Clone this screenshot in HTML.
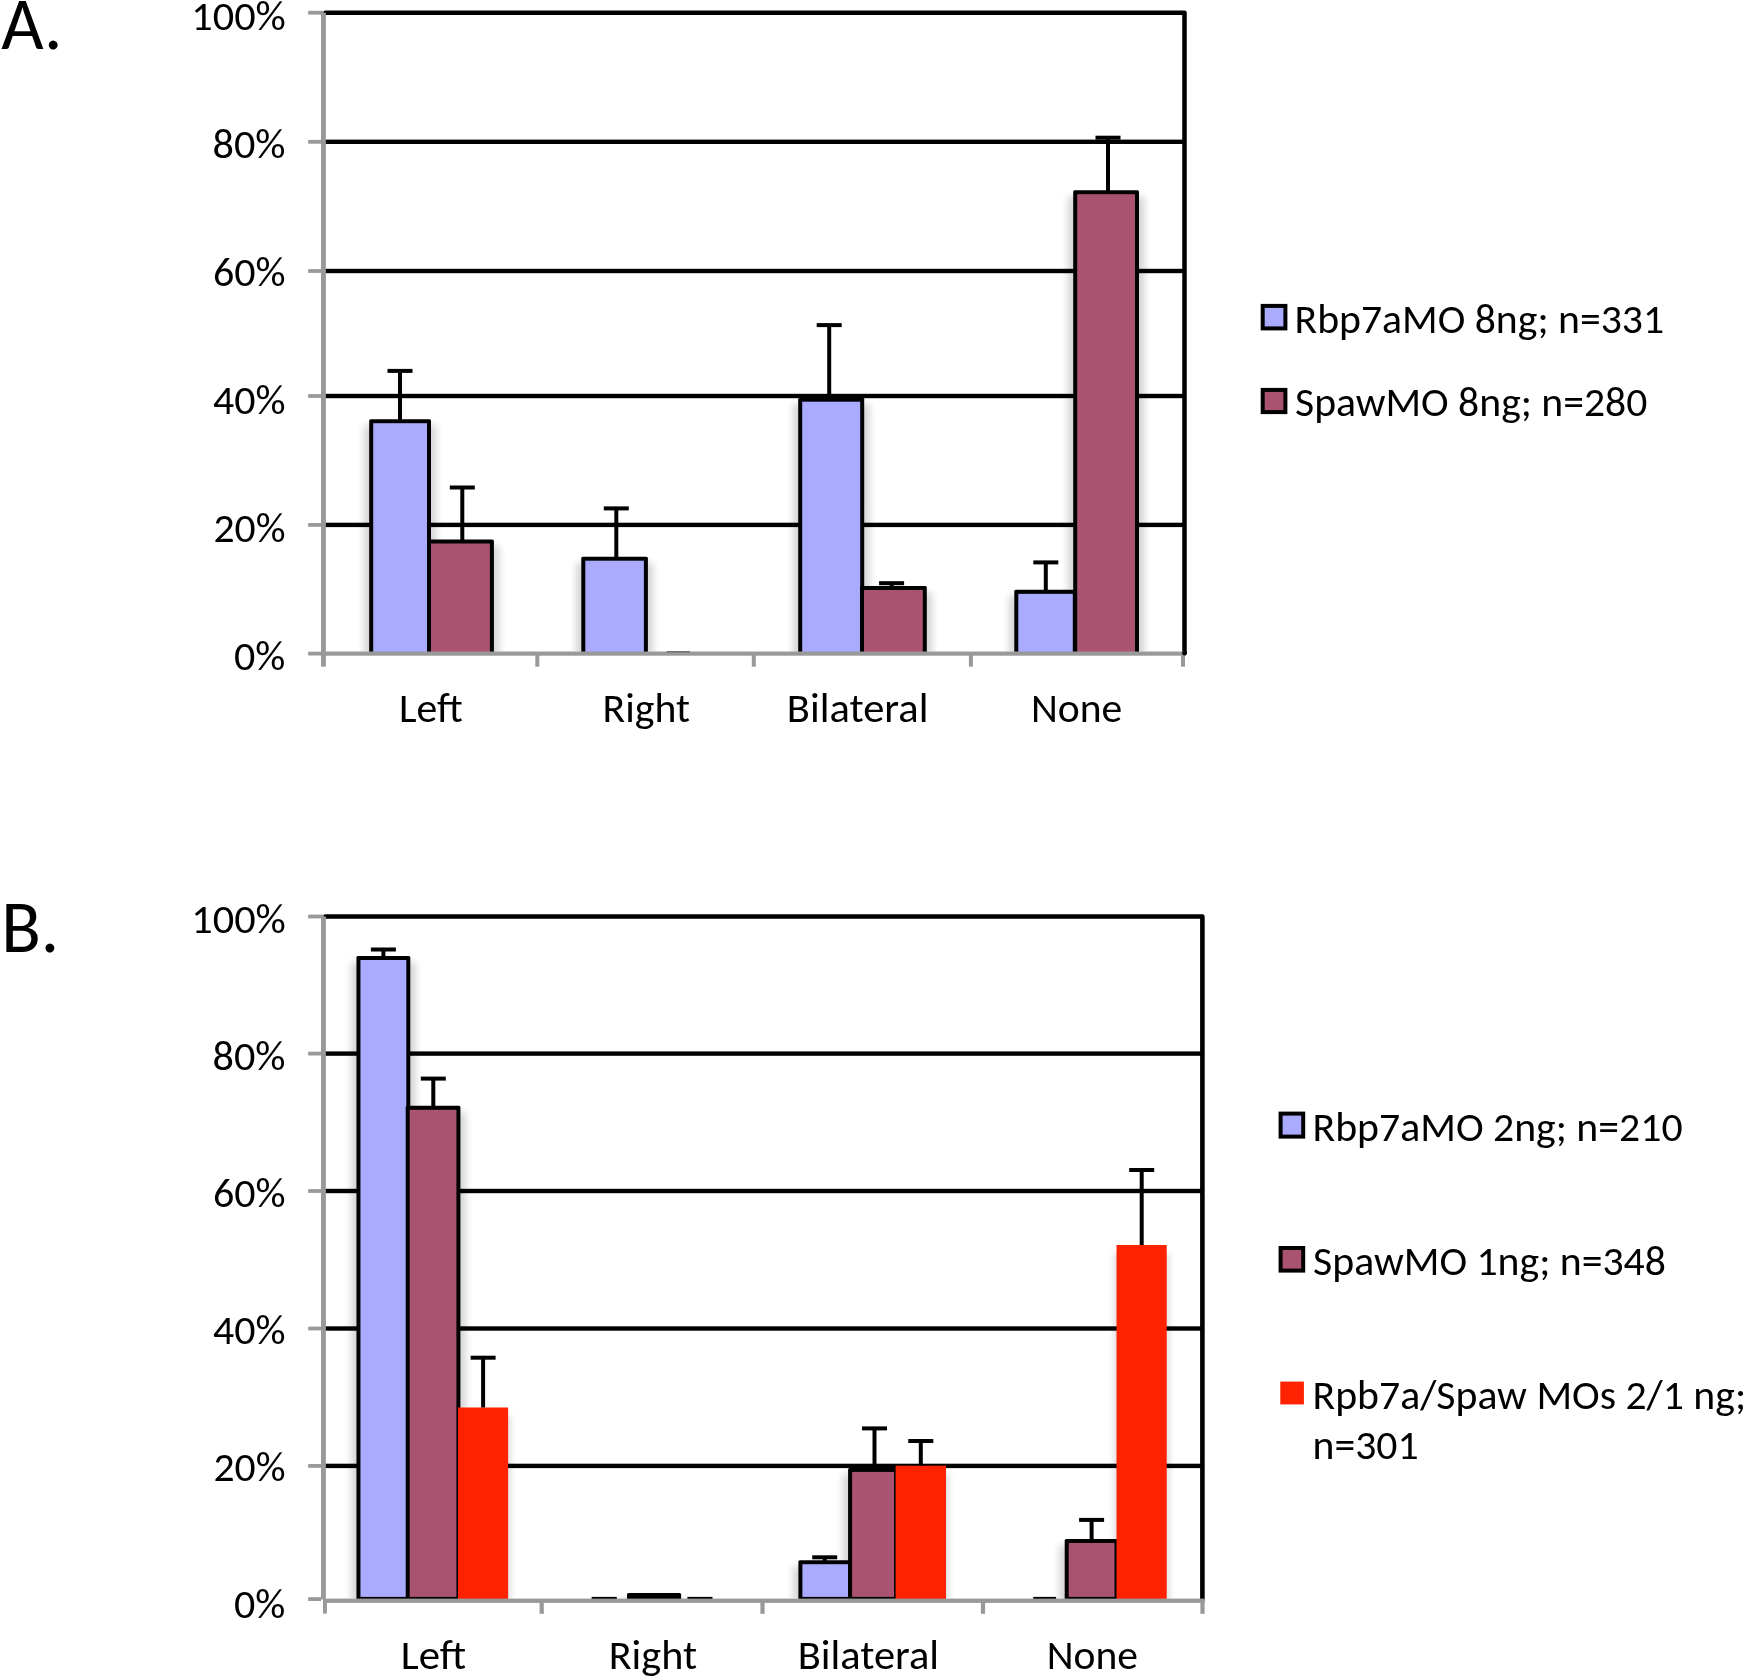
<!DOCTYPE html><html><head><meta charset="utf-8"><title>Chart</title>
<style>html,body{margin:0;padding:0;background:#fff;}body{width:1744px;height:1678px;overflow:hidden;}svg{display:block;}text{font-family:Carlito, 'Liberation Sans', Arial, sans-serif;fill:#000;filter:grayscale(1);font-size-adjust:cap-height 0.6416;}</style></head><body>
<svg width="1744" height="1678" viewBox="0 0 1744 1678">
<defs><filter id="sh" x="-50%" y="-20%" width="200%" height="140%"><feGaussianBlur stdDeviation="3.5"/></filter><filter id="sh2" x="-50%" y="-20%" width="200%" height="140%"><feGaussianBlur stdDeviation="3"/></filter><clipPath id="clipA"><rect x="326" y="0" width="856" height="651.5"/></clipPath><clipPath id="clipAR"><rect x="1170" y="651.5" width="30" height="20"/></clipPath><clipPath id="clipB"><rect x="326" y="900" width="874" height="698.6"/></clipPath></defs>
<rect x="0" y="0" width="1744" height="1678" fill="#fff"/>
<rect x="323.40" y="139.60" width="861.10" height="4.40" fill="#000"/>
<rect x="323.40" y="268.80" width="861.10" height="4.40" fill="#000"/>
<rect x="323.40" y="393.80" width="861.10" height="4.40" fill="#000"/>
<rect x="323.40" y="522.70" width="861.10" height="4.40" fill="#000"/>
<path d="M325.4 12.7 H1184.5 V653.2" fill="none" stroke="#000" stroke-width="4.5" stroke-linejoin="round" stroke-linecap="round"/>
<g clip-path="url(#clipA)">
<rect x="363.70" y="425.20" width="72.80" height="242.30" fill="#000" opacity="0.16" filter="url(#sh)"/>
<rect x="421.50" y="545.50" width="77.90" height="122.00" fill="#000" opacity="0.16" filter="url(#sh)"/>
<rect x="575.80" y="562.70" width="77.60" height="104.80" fill="#000" opacity="0.16" filter="url(#sh)"/>
<rect x="792.70" y="403.70" width="77.00" height="263.80" fill="#000" opacity="0.16" filter="url(#sh)"/>
<rect x="854.50" y="592.00" width="77.80" height="75.50" fill="#000" opacity="0.16" filter="url(#sh)"/>
<rect x="1008.80" y="595.85" width="73.50" height="71.65" fill="#000" opacity="0.16" filter="url(#sh)"/>
<rect x="1067.70" y="196.20" width="76.80" height="471.30" fill="#000" opacity="0.16" filter="url(#sh)"/>
</g>
<rect x="369.20" y="419.20" width="61.80" height="234.40" fill="#000" rx="1.5"/>
<rect x="373.20" y="423.20" width="53.80" height="230.40" fill="#aaaaff"/>
<rect x="427.00" y="539.50" width="66.90" height="114.10" fill="#000" rx="1.5"/>
<rect x="431.00" y="543.50" width="58.90" height="110.10" fill="#aa5370"/>
<rect x="581.30" y="556.70" width="66.60" height="96.90" fill="#000" rx="1.5"/>
<rect x="585.30" y="560.70" width="58.60" height="92.90" fill="#aaaaff"/>
<rect x="798.20" y="397.70" width="66.00" height="255.90" fill="#000" rx="1.5"/>
<rect x="802.20" y="401.70" width="58.00" height="251.90" fill="#aaaaff"/>
<rect x="860.00" y="586.00" width="66.80" height="67.60" fill="#000" rx="1.5"/>
<rect x="864.00" y="590.00" width="58.80" height="63.60" fill="#aa5370"/>
<rect x="1014.30" y="589.85" width="62.50" height="63.75" fill="#000" rx="1.5"/>
<rect x="1018.30" y="593.85" width="54.50" height="59.75" fill="#aaaaff"/>
<rect x="1073.20" y="190.20" width="65.80" height="463.40" fill="#000" rx="1.5"/>
<rect x="1077.20" y="194.20" width="57.80" height="459.40" fill="#aa5370"/>
<rect x="398.00" y="370.90" width="4.00" height="50.30" fill="#000"/>
<rect x="387.50" y="368.90" width="25.00" height="4.00" fill="#000"/>
<rect x="460.30" y="487.50" width="4.00" height="54.00" fill="#000"/>
<rect x="449.80" y="485.50" width="25.00" height="4.00" fill="#000"/>
<rect x="614.30" y="508.40" width="4.00" height="50.30" fill="#000"/>
<rect x="603.80" y="506.40" width="25.00" height="4.00" fill="#000"/>
<rect x="827.20" y="325.10" width="4.00" height="74.60" fill="#000"/>
<rect x="816.70" y="323.10" width="25.00" height="4.00" fill="#000"/>
<rect x="889.60" y="583.20" width="4.00" height="4.80" fill="#000"/>
<rect x="879.10" y="581.20" width="25.00" height="4.00" fill="#000"/>
<rect x="1043.80" y="562.40" width="4.00" height="29.45" fill="#000"/>
<rect x="1033.30" y="560.40" width="25.00" height="4.00" fill="#000"/>
<rect x="1106.00" y="137.70" width="4.00" height="54.50" fill="#000"/>
<rect x="1095.50" y="135.70" width="25.00" height="4.00" fill="#000"/>
<rect x="321.00" y="12.70" width="4.90" height="654.00" fill="#999999"/>
<rect x="321.00" y="651.50" width="863.00" height="4.20" fill="#999999"/>
<rect x="308.20" y="10.80" width="15.20" height="3.80" fill="#999999"/>
<rect x="308.20" y="139.90" width="15.20" height="3.80" fill="#999999"/>
<rect x="308.20" y="269.10" width="15.20" height="3.80" fill="#999999"/>
<rect x="308.20" y="394.10" width="15.20" height="3.80" fill="#999999"/>
<rect x="308.20" y="523.00" width="15.20" height="3.80" fill="#999999"/>
<rect x="308.20" y="651.70" width="15.20" height="3.80" fill="#999999"/>
<rect x="535.30" y="653.60" width="4.00" height="13.10" fill="#999999"/>
<rect x="751.80" y="653.60" width="4.00" height="13.10" fill="#999999"/>
<rect x="968.90" y="653.60" width="4.00" height="13.10" fill="#999999"/>
<rect x="1181.00" y="653.60" width="4.00" height="13.10" fill="#999999"/>
<path d="M1184.5 640 V653.2" fill="none" stroke="#000" stroke-width="4.5" stroke-linecap="round" clip-path="url(#clipAR)"/>
<rect x="666.80" y="651.20" width="23.00" height="1.10" fill="#5a5a5a"/>
<text x="191.27" y="29.90" font-size="42.0" textLength="94.53" lengthAdjust="spacingAndGlyphs">100%</text>
<text x="212.59" y="157.90" font-size="42.0" textLength="72.93" lengthAdjust="spacingAndGlyphs">80%</text>
<text x="212.90" y="285.90" font-size="42.0" textLength="72.61" lengthAdjust="spacingAndGlyphs">60%</text>
<text x="213.00" y="413.90" font-size="42.0" textLength="72.51" lengthAdjust="spacingAndGlyphs">40%</text>
<text x="213.52" y="541.90" font-size="42.0" textLength="71.98" lengthAdjust="spacingAndGlyphs">20%</text>
<text x="233.90" y="669.90" font-size="42.0" textLength="51.31" lengthAdjust="spacingAndGlyphs">0%</text>
<text x="398.91" y="721.90" font-size="42.0" textLength="63.73" lengthAdjust="spacingAndGlyphs">Left</text>
<text x="602.62" y="721.90" font-size="42.0" textLength="87.45" lengthAdjust="spacingAndGlyphs">Right</text>
<text x="786.86" y="721.90" font-size="42.0" textLength="141.58" lengthAdjust="spacingAndGlyphs">Bilateral</text>
<text x="1030.93" y="721.90" font-size="42.0" textLength="91.29" lengthAdjust="spacingAndGlyphs">None</text>
<rect x="1260.70" y="303.90" width="26.70" height="26.50" fill="#000"/>
<rect x="1264.70" y="307.90" width="18.70" height="18.50" fill="#aaaaff"/>
<text x="1294.52" y="332.90" font-size="42.0" textLength="369.53" lengthAdjust="spacingAndGlyphs">Rbp7aMO 8ng; n=331</text>
<rect x="1260.70" y="387.90" width="26.70" height="26.20" fill="#000"/>
<rect x="1264.70" y="391.90" width="18.70" height="18.20" fill="#aa5370"/>
<text x="1295.01" y="416.10" font-size="42.0" textLength="352.32" lengthAdjust="spacingAndGlyphs">SpawMO 8ng; n=280</text>
<text x="1.15" y="48.90" font-size="73" textLength="61.27" lengthAdjust="spacingAndGlyphs">A.</text>
<rect x="323.40" y="1051.40" width="879.00" height="4.40" fill="#000"/>
<rect x="323.40" y="1188.80" width="879.00" height="4.40" fill="#000"/>
<rect x="323.40" y="1326.30" width="879.00" height="4.40" fill="#000"/>
<rect x="323.40" y="1463.70" width="879.00" height="4.40" fill="#000"/>
<path d="M325.4 916.5 H1202.4 V1599.5" fill="none" stroke="#000" stroke-width="4.6" stroke-linejoin="round" stroke-linecap="round"/>
<g clip-path="url(#clipB)">
<rect x="350.95" y="962.00" width="64.85" height="654.90" fill="#000" opacity="0.16" filter="url(#sh)"/>
<rect x="400.20" y="1111.80" width="65.70" height="505.10" fill="#000" opacity="0.16" filter="url(#sh)"/>
<rect x="455.00" y="1415.50" width="56.10" height="203.40" fill="#000" opacity="0.12" filter="url(#sh2)"/>
<rect x="621.50" y="1598.90" width="65.10" height="18.00" fill="#000" opacity="0.16" filter="url(#sh)"/>
<rect x="792.90" y="1566.20" width="64.70" height="50.70" fill="#000" opacity="0.16" filter="url(#sh)"/>
<rect x="842.60" y="1473.90" width="60.90" height="143.00" fill="#000" opacity="0.16" filter="url(#sh)"/>
<rect x="892.60" y="1473.70" width="56.40" height="145.20" fill="#000" opacity="0.12" filter="url(#sh2)"/>
<rect x="1059.20" y="1545.00" width="64.80" height="71.90" fill="#000" opacity="0.16" filter="url(#sh)"/>
<rect x="1113.50" y="1253.00" width="56.20" height="365.90" fill="#000" opacity="0.12" filter="url(#sh2)"/>
</g>
<rect x="356.45" y="956.00" width="53.85" height="644.90" fill="#000" rx="1.5"/>
<rect x="360.45" y="960.00" width="45.85" height="636.90" fill="#aaaaff"/>
<rect x="405.70" y="1105.80" width="54.70" height="495.10" fill="#000" rx="1.5"/>
<rect x="409.70" y="1109.80" width="46.70" height="487.10" fill="#aa5370"/>
<rect x="458.00" y="1407.50" width="50.10" height="193.40" fill="#ff2200"/>
<rect x="627.00" y="1592.90" width="54.10" height="8.00" fill="#000" rx="1.5"/>
<rect x="798.40" y="1560.20" width="53.70" height="40.70" fill="#000" rx="1.5"/>
<rect x="802.40" y="1564.20" width="45.70" height="32.70" fill="#aaaaff"/>
<rect x="848.10" y="1467.90" width="49.90" height="133.00" fill="#000" rx="1.5"/>
<rect x="852.10" y="1471.90" width="41.90" height="125.00" fill="#aa5370"/>
<rect x="895.60" y="1465.70" width="50.40" height="135.20" fill="#ff2200"/>
<rect x="1064.70" y="1539.00" width="53.80" height="61.90" fill="#000" rx="1.5"/>
<rect x="1068.70" y="1543.00" width="45.80" height="53.90" fill="#aa5370"/>
<rect x="1116.50" y="1245.00" width="50.20" height="355.90" fill="#ff2200"/>
<rect x="381.40" y="949.50" width="4.00" height="8.50" fill="#000"/>
<rect x="370.90" y="947.50" width="25.00" height="4.00" fill="#000"/>
<rect x="431.30" y="1078.60" width="4.00" height="29.20" fill="#000"/>
<rect x="420.80" y="1076.60" width="25.00" height="4.00" fill="#000"/>
<rect x="481.10" y="1357.70" width="4.00" height="49.80" fill="#000"/>
<rect x="470.60" y="1355.70" width="25.00" height="4.00" fill="#000"/>
<rect x="822.70" y="1557.30" width="4.00" height="4.90" fill="#000"/>
<rect x="812.20" y="1555.30" width="25.00" height="4.00" fill="#000"/>
<rect x="872.50" y="1428.40" width="4.00" height="41.50" fill="#000"/>
<rect x="862.00" y="1426.40" width="25.00" height="4.00" fill="#000"/>
<rect x="918.80" y="1441.00" width="4.00" height="24.70" fill="#000"/>
<rect x="908.30" y="1439.00" width="25.00" height="4.00" fill="#000"/>
<rect x="1089.60" y="1519.90" width="4.00" height="21.10" fill="#000"/>
<rect x="1079.10" y="1517.90" width="25.00" height="4.00" fill="#000"/>
<rect x="1139.70" y="1170.00" width="4.00" height="75.00" fill="#000"/>
<rect x="1129.20" y="1168.00" width="25.00" height="4.00" fill="#000"/>
<rect x="591.60" y="1596.90" width="25.20" height="2.60" fill="#000"/>
<rect x="687.40" y="1596.90" width="25.10" height="2.60" fill="#000"/>
<rect x="1033.20" y="1596.90" width="22.90" height="2.60" fill="#000"/>
<rect x="321.00" y="916.50" width="4.90" height="683.00" fill="#999999"/>
<rect x="323.00" y="1599.00" width="3.90" height="14.60" fill="#999999"/>
<rect x="325.90" y="1598.60" width="878.70" height="4.30" fill="#999999"/>
<rect x="308.20" y="914.60" width="15.20" height="3.80" fill="#999999"/>
<rect x="308.20" y="1051.70" width="15.20" height="3.80" fill="#999999"/>
<rect x="308.20" y="1189.10" width="15.20" height="3.80" fill="#999999"/>
<rect x="308.20" y="1326.60" width="15.20" height="3.80" fill="#999999"/>
<rect x="308.20" y="1464.00" width="15.20" height="3.80" fill="#999999"/>
<rect x="308.20" y="1597.20" width="12.80" height="3.80" fill="#999999"/>
<rect x="539.60" y="1600.00" width="4.20" height="13.80" fill="#999999"/>
<rect x="760.40" y="1600.00" width="4.20" height="13.80" fill="#999999"/>
<rect x="980.90" y="1600.00" width="4.20" height="13.80" fill="#999999"/>
<rect x="1200.40" y="1600.00" width="4.20" height="13.80" fill="#999999"/>
<text x="191.27" y="932.85" font-size="42.0" textLength="94.53" lengthAdjust="spacingAndGlyphs">100%</text>
<text x="212.59" y="1069.88" font-size="42.0" textLength="72.93" lengthAdjust="spacingAndGlyphs">80%</text>
<text x="212.90" y="1206.91" font-size="42.0" textLength="72.61" lengthAdjust="spacingAndGlyphs">60%</text>
<text x="213.00" y="1343.94" font-size="42.0" textLength="72.51" lengthAdjust="spacingAndGlyphs">40%</text>
<text x="213.52" y="1480.97" font-size="42.0" textLength="71.98" lengthAdjust="spacingAndGlyphs">20%</text>
<text x="233.90" y="1618.00" font-size="42.0" textLength="51.31" lengthAdjust="spacingAndGlyphs">0%</text>
<text x="400.75" y="1668.90" font-size="42.0" textLength="65.22" lengthAdjust="spacingAndGlyphs">Left</text>
<text x="608.69" y="1668.90" font-size="42.0" textLength="88.39" lengthAdjust="spacingAndGlyphs">Right</text>
<text x="797.67" y="1668.90" font-size="42.0" textLength="141.47" lengthAdjust="spacingAndGlyphs">Bilateral</text>
<text x="1046.73" y="1668.90" font-size="42.0" textLength="91.29" lengthAdjust="spacingAndGlyphs">None</text>
<rect x="1278.60" y="1111.60" width="26.60" height="27.00" fill="#000"/>
<rect x="1282.60" y="1115.60" width="18.60" height="19.00" fill="#aaaaff"/>
<text x="1312.52" y="1141.30" font-size="42.0" textLength="370.04" lengthAdjust="spacingAndGlyphs">Rbp7aMO 2ng; n=210</text>
<rect x="1278.60" y="1246.00" width="26.60" height="26.60" fill="#000"/>
<rect x="1282.60" y="1250.00" width="18.60" height="18.60" fill="#aa5370"/>
<text x="1313.11" y="1274.60" font-size="42.0" textLength="352.82" lengthAdjust="spacingAndGlyphs">SpawMO 1ng; n=348</text>
<rect x="1280.30" y="1381.60" width="23.60" height="22.80" fill="#ff2200"/>
<text x="1312.52" y="1408.60" font-size="42.0" textLength="433.56" lengthAdjust="spacingAndGlyphs">Rpb7a/Spaw MOs 2/1 ng;</text>
<text x="1312.52" y="1458.50" font-size="42.0" textLength="106.13" lengthAdjust="spacingAndGlyphs">n=301</text>
<text x="1.21" y="951.70" font-size="73" textLength="58.02" lengthAdjust="spacingAndGlyphs">B.</text>
</svg></body></html>
